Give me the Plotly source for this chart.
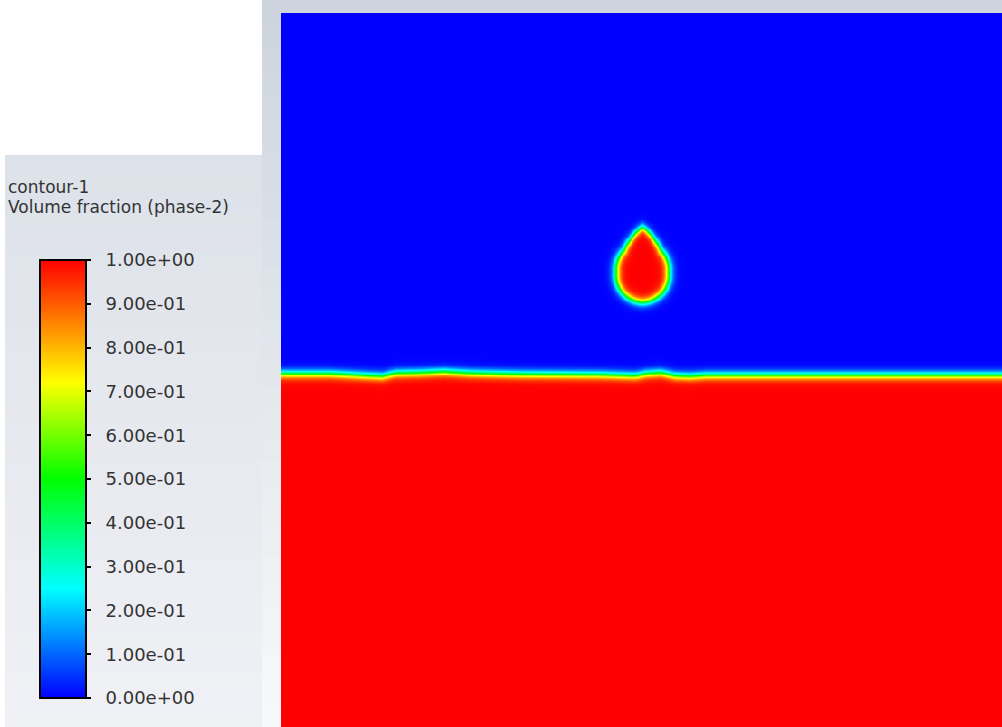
import numpy as np
import plotly.graph_objects as go

# Domain size (mm)
domain_width = 100.0
domain_height = 99.0

# Free-surface height profile of the pool (mm)
surface_x = [0.0, 6.8, 12.3, 14.0, 15.8, 19.3, 22.5, 26.2, 33.1, 44.2, 49.1, 50.5, 52.6,
             54.6, 56.7, 58.8, 72.0, 100.0]
surface_y = [49.03, 49.03, 48.75, 48.68, 49.10, 49.17, 49.31, 49.10, 48.96, 48.89, 48.75,
             49.03, 49.17, 48.75, 48.68, 48.82, 48.82, 48.82]

# Falling droplet: centre (mm) and outline radius by polar angle
droplet_center = (50.07, 63.1)
droplet_angle_deg = [-90, -45, 0, 50.7, 69.4, 81.5, 90, 98.5, 110.6, 129.3, 180, 225, 270]
droplet_radius = [4.16, 3.93, 3.61, 3.94, 4.74, 5.60, 6.24, 5.60, 4.74, 3.94, 3.61, 3.93, 4.16]

# Interface smearing thickness (mm)
interface_width = 0.65

# Colour legend
tick_values = [0.0, 0.1, 0.2, 0.3, 0.4, 0.5, 0.6, 0.7, 0.8, 0.9, 1.0]
tick_labels = ["0.00e+00", "1.00e-01", "2.00e-01", "3.00e-01", "4.00e-01", "5.00e-01",
               "6.00e-01", "7.00e-01", "8.00e-01", "9.00e-01", "1.00e+00"]
legend_title = ["contour-1", "Volume fraction (phase-2)"]

# ---- volume fraction field -------------------------------------------------
nx, ny = 401, 397
xs = np.linspace(0, domain_width, nx)
ys = np.linspace(0, domain_height, ny)
X, Y = np.meshgrid(xs, ys)

h = np.interp(xs, surface_x, surface_y)[None, :]
pool = 0.5 * (1.0 - np.tanh((Y - h) / interface_width))

dx = X - droplet_center[0]
dy = Y - droplet_center[1]
theta = np.degrees(np.arctan2(dy, dx))
theta = np.where(theta < -90, theta + 360, theta)
r_edge = np.interp(theta, droplet_angle_deg, droplet_radius)
dist = np.hypot(dx, dy)
drop = 0.5 * (1.0 + np.tanh((r_edge - dist) / interface_width))

alpha = np.round(np.maximum(pool, drop), 3)

rainbow = [
    [0.0, "rgb(0,0,255)"],
    [0.25, "rgb(0,255,255)"],
    [0.5, "rgb(0,255,0)"],
    [0.72, "rgb(255,255,0)"],
    [1.0, "rgb(255,0,0)"],
]

W, H = 1002, 727
NBSP = "\u00a0"

fig = go.Figure()
fig.add_trace(go.Heatmap(
    x=xs, y=ys, z=alpha,
    zmin=0, zmax=1,
    colorscale=rainbow,
    zsmooth="best",
    hoverinfo="skip",
    colorbar=dict(
        x=40 / W, xanchor="left",
        y=1 - 479 / H, yanchor="middle",
        thickness=46, thicknessmode="pixels",
        len=438, lenmode="pixels",
        xpad=0, ypad=0,
        outlinewidth=2, outlinecolor="black",
        tickmode="array", tickvals=tick_values,
        ticktext=[NBSP * 2 + s for s in tick_labels],
        ticks="outside", ticklen=4, tickwidth=2, tickcolor="black",
        tickfont=dict(family="DejaVu Sans", size=18, color="#333333"),
        bgcolor="rgba(0,0,0,0)",
    ),
))

# ---- window background: legend panel and graphics frame ----------------------
def lerp_color(c0, c1, t):
    return "rgb(%d,%d,%d)" % tuple(round(a + (b - a) * t) for a, b in zip(c0, c1))

shapes = []
bands = 30
for i in range(bands):
    t = i / (bands - 1)
    p0 = H * i / bands
    p1 = min(H, H * (i + 1) / bands + 2)
    shapes.append(dict(type="rect", xref="paper", yref="paper", layer="below",
                       x0=262 / W, x1=1, y0=1 - p1 / H, y1=1 - p0 / H, line_width=0,
                       fillcolor=lerp_color((206, 212, 222), (247, 248, 250), t)))
panel_top = 155
for i in range(bands):
    t = i / (bands - 1)
    p0 = panel_top + (H - panel_top) * i / bands
    p1 = min(H, panel_top + (H - panel_top) * (i + 1) / bands + 2)
    shapes.append(dict(type="rect", xref="paper", yref="paper", layer="below",
                       x0=5 / W, x1=262 / W, y0=1 - p1 / H, y1=1 - p0 / H, line_width=0,
                       fillcolor=lerp_color((221, 225, 233), (240, 241, 245), t)))

title_font = dict(family="DejaVu Sans", size=17, color="#333333")
annotations = [
    dict(text=legend_title[0], xref="paper", yref="paper", x=6 / W, y=1 - 187 / H,
         xanchor="left", yanchor="middle", showarrow=False, font=title_font),
    dict(text=legend_title[1], xref="paper", yref="paper", x=6 / W, y=1 - 207 / H,
         xanchor="left", yanchor="middle", showarrow=False, font=title_font),
]

fig.update_layout(
    width=W, height=H,
    margin=dict(l=0, r=0, t=0, b=0),
    paper_bgcolor="white",
    plot_bgcolor="white",
    shapes=shapes,
    annotations=annotations,
    xaxis=dict(domain=[281 / W, 1], range=[0, domain_width], visible=False, fixedrange=True),
    yaxis=dict(domain=[0, 714 / H], range=[0, domain_height], visible=False, fixedrange=True),
    showlegend=False,
)

fig.write_html("out.html")
